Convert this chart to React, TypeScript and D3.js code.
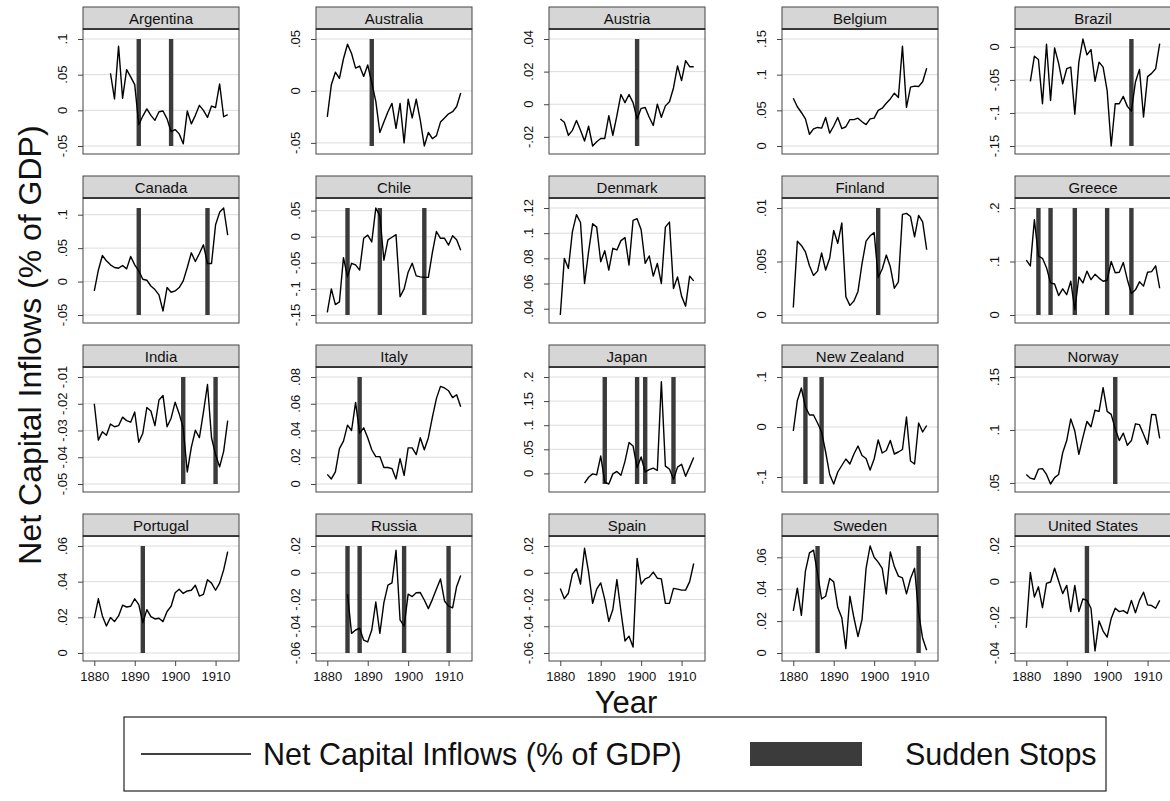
import React, { useEffect, useRef } from 'react';
import * as d3 from 'd3';

const countries = [
  'Argentina', 'Australia', 'Austria', 'Belgium', 'Brazil',
  'Canada', 'Chile', 'Denmark', 'Finland', 'Greece',
  'India', 'Italy', 'Japan', 'New Zealand', 'Norway',
  'Portugal', 'Russia', 'Spain', 'Sweden', 'United States',
];

// first year with data, per country
const firstYear = [
  1884, 1880, 1880, 1880, 1881,
  1880, 1880, 1880, 1880, 1880,
  1880, 1880, 1886, 1880, 1880,
  1880, 1885, 1880, 1880, 1880,
];

const argentina = [0.052, 0.016, 0.09, 0.017, 0.057, 0.047, 0.036, -0.02, -0.008, 0.002, -0.007, -0.014, -0.002, -0.001, -0.012, -0.03, -0.027, -0.033, -0.047, -0.001, -0.019, -0.007, 0.007, 0, -0.01, 0.006, 0.004, 0.037, -0.009, -0.006];
const australia = [-0.025, 0.006, 0.018, 0.012, 0.031, 0.045, 0.036, 0.022, 0.024, 0.014, 0.025, 0.008, -0.01, -0.04, -0.03, -0.02, -0.012, -0.036, -0.012, -0.05, -0.008, -0.026, -0.008, -0.028, -0.053, -0.04, -0.046, -0.043, -0.03, -0.026, -0.022, -0.02, -0.015, -0.002];
const austria = [-0.009, -0.011, -0.019, -0.016, -0.01, -0.016, -0.0225, -0.0135, -0.0256, -0.023, -0.021, -0.021, -0.007, -0.019, -0.007, 0.006, 0.001, 0.006, 0.001, -0.009, -0.0025, -0.002, -0.008, -0.013, 0, -0.008, -0.001, 0.0015, 0.01, 0.0235, 0.0145, 0.0267, 0.023, 0.023];
const belgium = [0.067, 0.055, 0.047, 0.038, 0.0165, 0.024, 0.026, 0.025, 0.04, 0.018, 0.028, 0.04, 0.0245, 0.027, 0.037, 0.037, 0.039, 0.034, 0.03, 0.038, 0.039, 0.05, 0.053, 0.06, 0.066, 0.074, 0.068, 0.14, 0.054, 0.0825, 0.084, 0.0835, 0.09, 0.109];
const brazil = [-0.052, -0.014, -0.019, -0.086, 0.004, -0.081, -0.0015, -0.025, -0.056, -0.033, -0.0305, -0.102, -0.023, 0.012, -0.012, -0.004, -0.052, -0.023, -0.0305, -0.066, -0.15, -0.086, -0.086, -0.075, -0.09, -0.097, -0.053, -0.034, -0.106, -0.045, -0.04, -0.033, 0.005];
const canada = [-0.014, 0.017, 0.039, 0.031, 0.025, 0.021, 0.02, 0.024, 0.019, 0.0375, 0.025, 0.016, 0.0035, 0.002, -0.0066, -0.012, -0.02, -0.044, -0.009, -0.016, -0.014, -0.009, 0.001, 0.021, 0.043, 0.03, 0.042, 0.055, 0.027, 0.027, 0.085, 0.1035, 0.11, 0.0695];
const chile = [-0.145, -0.1, -0.13, -0.125, -0.04, -0.077, -0.051, -0.054, -0.064, -0.003, 0.003, -0.01, 0.055, 0.04, -0.045, -0.006, -0.001, 0.004, -0.115, -0.1, -0.068, -0.051, -0.075, -0.077, -0.078, -0.078, -0.03, 0.01, -0.003, -0.003, -0.016, 0.002, -0.006, -0.026];
const denmark = [0.035, 0.08, 0.072, 0.1013, 0.1147, 0.1085, 0.06, 0.0853, 0.1075, 0.1048, 0.0773, 0.0861, 0.0707, 0.088, 0.0867, 0.0941, 0.0965, 0.0747, 0.1101, 0.1115, 0.1027, 0.076, 0.0819, 0.0659, 0.076, 0.06, 0.1048, 0.1088, 0.056, 0.0653, 0.05, 0.042, 0.0659, 0.0621];
const finland = [0.0007, 0.0069, 0.0065, 0.0059, 0.0046, 0.0037, 0.0041, 0.0058, 0.0042, 0.0053, 0.0079, 0.0067, 0.0086, 0.0017, 0.0009, 0.0013, 0.0022, 0.0048, 0.0069, 0.0074, 0.0077, 0.0035, 0.0043, 0.0056, 0.0045, 0.0025, 0.0031, 0.0094, 0.0095, 0.0092, 0.0073, 0.0093, 0.0087, 0.0061];
const greece = [0.1025, 0.0917, 0.178, 0.11, 0.106, 0.0885, 0.06, 0.058, 0.0364, 0.049, 0.038, 0.063, 0.01, 0.071, 0.06, 0.082, 0.066, 0.076, 0.069, 0.063, 0.065, 0.1, 0.079, 0.08, 0.098, 0.066, 0.04, 0.047, 0.062, 0.054, 0.08, 0.081, 0.092, 0.05];
const india = [-0.02, -0.0336, -0.0305, -0.0318, -0.0276, -0.0286, -0.0282, -0.025, -0.0263, -0.0269, -0.0231, -0.0344, -0.031, -0.0214, -0.0227, -0.0282, -0.0186, -0.0169, -0.0286, -0.0254, -0.0194, -0.0237, -0.0291, -0.0455, -0.0363, -0.0299, -0.0327, -0.0231, -0.0128, -0.0327, -0.039, -0.0436, -0.0378, -0.0263];
const italy = [0.0072, 0.0038, 0.009, 0.0264, 0.032, 0.044, 0.04, 0.061, 0.038, 0.042, 0.0346, 0.0256, 0.0205, 0.0205, 0.0123, 0.0123, 0.0115, 0.0038, 0.019, 0.0064, 0.027, 0.027, 0.022, 0.0346, 0.0256, 0.0346, 0.05, 0.064, 0.073, 0.0718, 0.0697, 0.0646, 0.0667, 0.0577];
const japan = [-0.02, -0.008, -0.001, -0.003, 0.036, -0.018, -0.022, -0.001, 0.004, -0.004, 0.025, 0.064, 0.057, 0.012, 0.034, 0.003, 0.008, 0.011, 0.006, 0.19, 0.015, 0.009, -0.012, 0.013, 0.019, -0.006, 0.013, 0.033];
const newZealand = [-0.008, 0.053, 0.078, 0.04, 0.024, 0.024, 0.008, -0.01, -0.05, -0.095, -0.114, -0.09, -0.077, -0.064, -0.074, -0.054, -0.038, -0.057, -0.063, -0.086, -0.064, -0.026, -0.052, -0.047, -0.027, -0.054, -0.05, -0.045, 0.02, -0.068, -0.074, 0.008, -0.01, 0.003];
const norway = [0.058, 0.0545, 0.0535, 0.063, 0.0635, 0.058, 0.049, 0.055, 0.058, 0.0785, 0.09, 0.1105, 0.099, 0.077, 0.093, 0.108, 0.103, 0.1186, 0.1176, 0.14, 0.1176, 0.1147, 0.101, 0.09, 0.097, 0.0856, 0.09, 0.1058, 0.105, 0.096, 0.0865, 0.1147, 0.1144, 0.092];
const portugal = [0.0195, 0.0304, 0.0208, 0.0151, 0.0199, 0.0176, 0.0208, 0.0268, 0.0258, 0.0262, 0.0304, 0.0271, 0.017, 0.0243, 0.0204, 0.0191, 0.0195, 0.0176, 0.0233, 0.0262, 0.0338, 0.0357, 0.0334, 0.0348, 0.0352, 0.038, 0.0319, 0.0329, 0.0411, 0.0392, 0.0352, 0.0392, 0.0466, 0.0568];
const russia = [-0.016, -0.0453, -0.0428, -0.0415, -0.0504, -0.0517, -0.0428, -0.0219, -0.0453, -0.0224, -0.0092, -0.0076, 0.0168, -0.0352, -0.04, -0.016, -0.0178, -0.015, -0.0148, -0.0204, -0.0268, -0.0199, -0.0122, -0.0046, -0.0211, -0.025, -0.0262, -0.0102, -0.002];
const spain = [-0.0117, -0.0194, -0.0153, -0.001, 0.003, -0.0084, 0.0183, 0.0005, -0.0229, -0.0122, -0.0076, -0.0199, -0.0364, -0.0275, -0.0051, -0.0288, -0.051, -0.0474, -0.0555, 0.0107, -0.0084, -0.0046, -0.0033, 0.0005, -0.0041, -0.0046, -0.0229, -0.0229, -0.0117, -0.0122, -0.013, -0.013, -0.0066, 0.0069];
const sweden = [0.0264, 0.0407, 0.0236, 0.0514, 0.0628, 0.0645, 0.05, 0.0339, 0.0356, 0.0467, 0.0446, 0.0285, 0.0221, 0.0028, 0.0356, 0.0221, 0.0103, 0.021, 0.0531, 0.0671, 0.06, 0.057, 0.0531, 0.0371, 0.0634, 0.0542, 0.0482, 0.0471, 0.0371, 0.0467, 0.0531, 0.025, 0.0092, 0.0017];
const unitedStates = [-0.0258, 0.0052, -0.0086, -0.0029, -0.0145, -0.001, -0.0002, 0.0075, 0.0004, -0.0067, -0.0021, -0.0168, -0.0021, -0.0168, -0.0097, -0.0105, -0.0149, -0.0388, -0.022, -0.0277, -0.0311, -0.0206, -0.0149, -0.0168, -0.0162, -0.0178, -0.0105, -0.0174, -0.0105, -0.0059, -0.013, -0.0134, -0.0149, -0.0105];

const series = [
  argentina, australia, austria, belgium, brazil,
  canada, chile, denmark, finland, greece,
  india, italy, japan, newZealand, norway,
  portugal, russia, spain, sweden, unitedStates,
];

const suddenStops = [
  [1891, 1899], [1891], [1899], [], [1906],
  [1891, 1908], [1885, 1893, 1904], [], [1901], [1883, 1886, 1892, 1900, 1906],
  [1902, 1910], [1888], [1891, 1899, 1901, 1908], [1883, 1887], [1902],
  [1892], [1885, 1888, 1899, 1910], [], [1886, 1911], [1895],
];

const yTicks = [
  [-0.05, 0, 0.05, 0.1], [-0.05, 0, 0.05], [-0.02, 0, 0.02, 0.04], [0, 0.05, 0.1, 0.15], [-0.15, -0.1, -0.05, 0],
  [-0.05, 0, 0.05, 0.1], [-0.15, -0.1, -0.05, 0, 0.05], [0.04, 0.06, 0.08, 0.1, 0.12], [0, 0.005, 0.01], [0, 0.1, 0.2],
  [-0.05, -0.04, -0.03, -0.02, -0.01], [0, 0.02, 0.04, 0.06, 0.08], [0, 0.05, 0.1, 0.15, 0.2], [-0.1, 0, 0.1], [0.05, 0.1, 0.15],
  [0, 0.02, 0.04, 0.06], [-0.06, -0.04, -0.02, 0, 0.02], [-0.06, -0.04, -0.02, 0, 0.02], [0, 0.02, 0.04, 0.06], [-0.04, -0.02, 0, 0.02],
];

const xTicks = [1880, 1890, 1900, 1910];

const FONT = 'Arial, "Liberation Sans", Helvetica, sans-serif';

// Stata-style labels: .05, -.05, 0
const fmt = (v: number) => (v === 0 ? '0' : String(+v.toFixed(4)).replace(/^(-?)0\./, '$1.'));

export default function App() {
  const svgRef = useRef<SVGSVGElement>(null);

  useEffect(() => {
    if (!svgRef.current) return;
    const svg = d3.select(svgRef.current);
    svg.selectAll('*').remove();

    svg.append('rect').attr('width', 1170).attr('height', 801).attr('fill', '#fff');

    const panelW = 156;
    const stripH = 22;

    countries.forEach((name, i) => {
      const col = i % 5;
      const row = Math.floor(i / 5);
      const left = 83 + col * 233;
      const top = 7 + row * 169;
      const plotTop = top + stripH;
      const plotBottom = top + 147;

      const vals = series[i];
      const pts = vals.map((v, k) => ({ year: firstYear[i] + k, v }));
      const ext = d3.extent([...vals, ...yTicks[i]]) as [number, number];

      const x = d3.scaleLinear().domain([1880, 1913]).range([left + 11.3, left + panelW - 11.3]);
      const y = d3.scaleLinear().domain(ext).range([plotBottom - 8, plotTop + 10]);

      const g = svg.append('g');

      g.append('rect')
        .attr('x', left)
        .attr('y', plotTop)
        .attr('width', panelW)
        .attr('height', plotBottom - plotTop)
        .attr('fill', '#fff');

      // gridlines
      g.selectAll('.grid')
        .data(yTicks[i])
        .join('line')
        .attr('x1', left)
        .attr('x2', left + panelW)
        .attr('y1', (d) => y(d))
        .attr('y2', (d) => y(d))
        .attr('stroke', '#dcdcdc')
        .attr('stroke-width', 1);

      // sudden stop bars
      g.selectAll('.stop')
        .data(suddenStops[i])
        .join('rect')
        .attr('x', (d) => x(d) - 2.2)
        .attr('width', 4.4)
        .attr('y', y(ext[1]))
        .attr('height', y(ext[0]) - y(ext[1]))
        .attr('fill', '#3b3b3b');

      const line = d3
        .line<{ year: number; v: number }>()
        .x((d) => x(d.year))
        .y((d) => y(d.v));

      g.append('path')
        .datum(pts)
        .attr('d', line)
        .attr('fill', 'none')
        .attr('stroke', '#000')
        .attr('stroke-width', 1.4)
        .attr('stroke-linejoin', 'round');

      // frame
      g.append('rect')
        .attr('x', left)
        .attr('y', plotTop)
        .attr('width', panelW)
        .attr('height', plotBottom - plotTop)
        .attr('fill', 'none')
        .attr('stroke', '#444')
        .attr('stroke-width', 1);

      // strip
      g.append('rect')
        .attr('x', left)
        .attr('y', top)
        .attr('width', panelW)
        .attr('height', stripH)
        .attr('fill', '#d6d6d6')
        .attr('stroke', '#444')
        .attr('stroke-width', 1);
      g.append('line')
        .attr('x1', left)
        .attr('x2', left + panelW)
        .attr('y1', plotTop)
        .attr('y2', plotTop)
        .attr('stroke', '#222')
        .attr('stroke-width', 1.6);
      g.append('text')
        .attr('x', left + panelW / 2)
        .attr('y', top + 16.5)
        .attr('text-anchor', 'middle')
        .attr('font-family', FONT)
        .attr('font-size', 15)
        .attr('fill', '#111')
        .text(name);

      // y axis ticks
      const ya = g
        .append('g')
        .attr('transform', `translate(${left},0)`)
        .call(d3.axisLeft(y).tickValues(yTicks[i]).tickSize(5).tickFormat(() => ''));
      ya.select('.domain').remove();
      ya.selectAll('line').attr('stroke', '#444');

      g.selectAll('.ylab')
        .data(yTicks[i])
        .join('text')
        .attr('transform', (d) => `translate(${left - 16.5},${y(d)}) rotate(-90)`)
        .attr('text-anchor', 'middle')
        .attr('font-family', FONT)
        .attr('font-size', 13)
        .attr('fill', '#111')
        .text((d) => fmt(d));

      // x axis only on bottom row
      if (row === 3) {
        const xa = g
          .append('g')
          .attr('transform', `translate(0,${plotBottom})`)
          .call(d3.axisBottom(x).tickValues(xTicks).tickSize(5).tickFormat(d3.format('d')));
        xa.select('.domain').remove();
        xa.selectAll('line').attr('stroke', '#444');
        xa.selectAll('text')
          .attr('font-family', FONT)
          .attr('font-size', 13)
          .attr('fill', '#111')
          .attr('dy', '0.95em');
      }
    });

    // axis titles
    svg
      .append('text')
      .attr('transform', 'translate(41,345) rotate(-90)')
      .attr('text-anchor', 'middle')
      .attr('font-family', FONT)
      .attr('font-size', 32)
      .attr('fill', '#111')
      .text('Net Capital Inflows (% of GDP)');

    svg
      .append('text')
      .attr('x', 626)
      .attr('y', 713)
      .attr('text-anchor', 'middle')
      .attr('font-family', FONT)
      .attr('font-size', 31)
      .attr('fill', '#111')
      .text('Year');

    // legend
    const lg = svg.append('g');
    lg.append('rect')
      .attr('x', 124)
      .attr('y', 717)
      .attr('width', 982)
      .attr('height', 74)
      .attr('fill', '#fff')
      .attr('stroke', '#222')
      .attr('stroke-width', 1.2);
    lg.append('line')
      .attr('x1', 141)
      .attr('x2', 251)
      .attr('y1', 754)
      .attr('y2', 754)
      .attr('stroke', '#000')
      .attr('stroke-width', 1.6);
    lg.append('text')
      .attr('x', 263)
      .attr('y', 765)
      .attr('font-family', FONT)
      .attr('font-size', 30.5)
      .attr('fill', '#111')
      .text('Net Capital Inflows (% of GDP)');
    lg.append('rect')
      .attr('x', 750)
      .attr('y', 742)
      .attr('width', 112)
      .attr('height', 24)
      .attr('fill', '#3b3b3b');
    lg.append('text')
      .attr('x', 905)
      .attr('y', 765)
      .attr('font-family', FONT)
      .attr('font-size', 30.5)
      .attr('fill', '#111')
      .text('Sudden Stops');
  }, []);

  return (
    <svg
      ref={svgRef}
      width={1170}
      height={801}
      style={{ position: 'absolute', left: 0, top: 0, display: 'block' }}
    />
  );
}
